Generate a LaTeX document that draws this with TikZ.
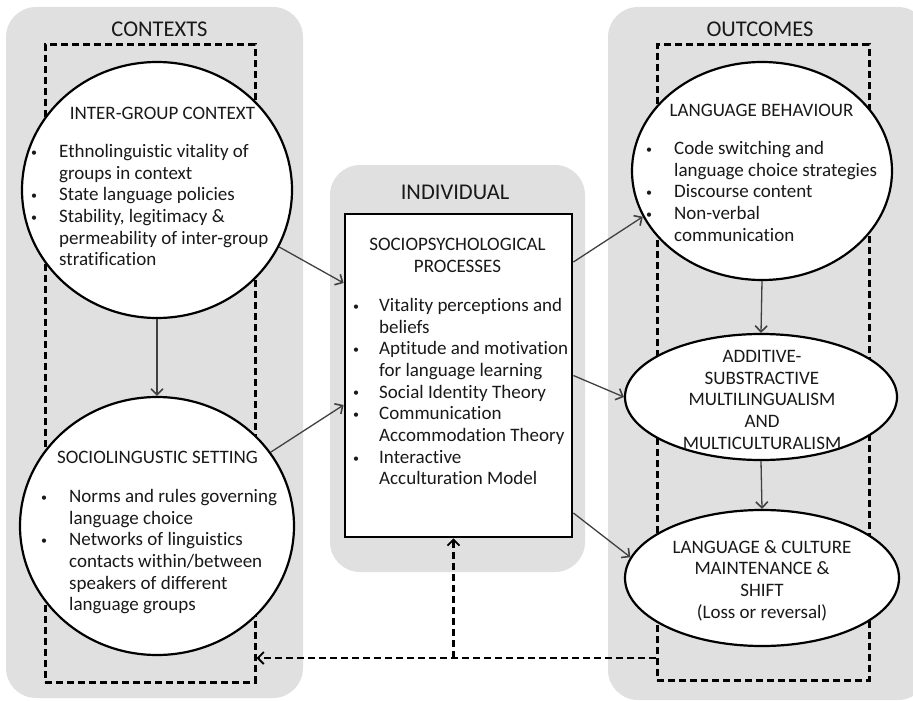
\documentclass[tikz,border=0pt]{standalone}
\usepackage{fontspec}
\setmainfont{Carlito}[Ligatures={NoCommon}]
\usetikzlibrary{shapes.geometric,arrows.meta,calc}
\newcommand{\smbul}{\raisebox{1.2pt}{\fontsize{12}{12}\selectfont\textbullet}}
\newcommand{\bul}{\makebox[28pt][l]{\smbul}}
\newcommand{\ind}{\hspace*{28pt}}
\newcommand{\bulb}{\makebox[26pt][l]{\smbul}}
\newcommand{\indb}{\hspace*{26pt}}
\begin{document}
\begin{tikzpicture}[x=1pt,y=-1pt,
  panel/.style={fill=black!12, draw=none, rounded corners=30pt, inner sep=0pt},
  dbox/.style={draw=black, line width=3pt, dash pattern=on 7pt off 4pt, inner sep=0pt},
  oval/.style={ellipse, draw=black, fill=white, line width=2.2pt, inner sep=0pt},
  sqbox/.style={rectangle, draw=black, fill=white, line width=2.8pt, inner sep=0pt},
  ttl/.style={font=\fontsize{22.5}{26}\selectfont, text=black!90, inner sep=0pt},
  hd/.style={font=\fontsize{19}{21.7}\selectfont, text=black!90, inner sep=0pt, align=center},
  body/.style={font=\fontsize{19}{21.7}\selectfont, text=black!90, inner sep=0pt, align=left},
  arr/.style={draw=black!75, line width=1.3pt, -{Straight Barb[length=6pt,width=12pt,line width=1.6pt]}},
  darr/.style={draw=black, line width=2.6pt, dash pattern=on 7pt off 4pt, -{Straight Barb[length=6pt,width=12pt,line width=1.8pt]}}
]
\useasboundingbox (0,0) rectangle (913,701);

% panels
\node[panel, minimum width=297pt, minimum height=691pt] (pL) at (154.5,352.5) {};
\node[panel, minimum width=255pt, minimum height=407pt] (pM) at (457.5,368.5) {};
\node[panel, minimum width=320pt, minimum height=693pt] (pR) at (768,353.5) {};

% titles
\node[ttl] (tL) at (159.5,29) {CONTEXTS};
\node[ttl] (tM) at (455,192.5) {INDIVIDUAL};
\node[ttl] (tR) at (760,29) {OUTCOMES};

% dashed frames
\node[dbox, minimum width=210pt, minimum height=637pt] (dL) at (150,363.5) {};
\node[dbox, minimum width=212pt, minimum height=635pt] (dR) at (763,362.5) {};

% left ovals
\node[oval, minimum width=270pt, minimum height=256pt] (ig) at (157,190) {};
\node[oval, minimum width=274pt, minimum height=258pt] (sl) at (157,526) {};

% middle box
\node[sqbox, minimum width=227pt, minimum height=323pt] (sp) at (458.5,375.5) {};

% right ovals
\node[oval, minimum width=260pt, minimum height=218pt] (lb) at (762,171) {};
\node[oval, minimum width=272pt, minimum height=126pt] (ad) at (761,397) {};
\node[oval, minimum width=274pt, minimum height=136pt] (lc) at (762,578) {};

% texts: inter-group
\node[hd] (igh) at (162.5,113) {INTER-GROUP CONTEXT};
\node[body, anchor=north west] (igb) at (31,144) {%
\bul Ethnolinguistic vitality of\\
\ind groups in context\\
\bul State language policies\\
\bul Stability, legitimacy \&\\
\ind permeability of inter-group\\
\ind stratification};

% sociolinguistic
\node[hd] (slh) at (157.5,457) {SOCIOLINGUSTIC SETTING};
\node[body, anchor=north west] (slb) at (41,489) {%
\bul Norms and rules governing\\
\ind language choice\\
\bul Networks of linguistics\\
\ind contacts within/between\\
\ind speakers of different\\
\ind language groups};

% sociopsychological
\node[hd, anchor=north] (sph) at (457.5,238) {SOCIOPSYCHOLOGICAL\\PROCESSES};
\node[body, anchor=north west] (spb) at (353,298) {%
\bulb Vitality perceptions and\\
\indb beliefs\\
\bulb Aptitude and motivation\\
\indb for language learning\\
\bulb Social Identity Theory\\
\bulb Communication\\
\indb Accommodation Theory\\
\bulb Interactive\\
\indb Acculturation Model};

% language behaviour
\node[hd] (lbh) at (761.5,110) {LANGUAGE BEHAVIOUR};
\node[body, anchor=north west] (lbb) at (646,141) {%
\bul Code switching and\\
\ind language choice strategies\\
\bul Discourse content\\
\bul Non-verbal\\
\ind communication};

% additive
\node[hd, anchor=north] (adt) at (762,350) {ADDITIVE-\\SUBSTRACTIVE\\MULTILINGUALISM\\AND\\MULTICULTURALISM};

% language & culture
\node[hd, anchor=north] (lct) at (762,540) {LANGUAGE \& CULTURE\\MAINTENANCE \&\\SHIFT\\(Loss or reversal)};

% connectors
\draw[arr] (ig.south) -- (sl.north);
\draw[arr] (ig.-25.6) -- ([yshift=92.5pt]sp.west);
\draw[arr] (sl.33.9) -- ([yshift=-29.5pt]sp.west);
\draw[arr] ([yshift=113.5pt]sp.east) -- (lb.201);
\draw[arr] (sp.east) -- (ad.west);
\draw[arr] ([yshift=-137.5pt]sp.east) -- (lc.171.6);
\draw[arr] (lb.south) -- (ad.north);
\draw[arr] (ad.south) -- (lc.north);

% feedback
\coordinate (fb) at ([xshift=-5pt]sp.south |- 0,658);
\draw[darr] (dR.west |- fb) -- (dL.east |- fb);
\draw[darr] (fb) -- (fb |- sp.south);
\end{tikzpicture}
\end{document}
